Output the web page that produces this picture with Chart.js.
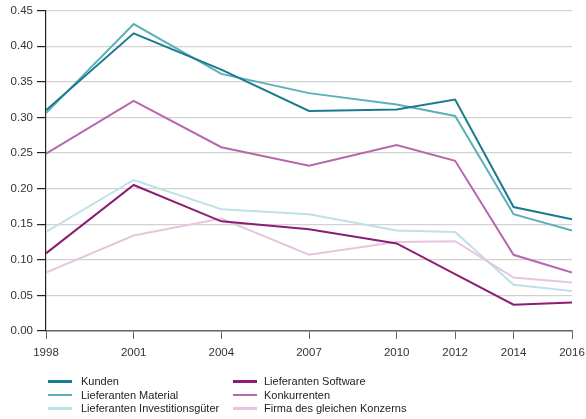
<!DOCTYPE html>
<html>
<head>
<meta charset="utf-8">
<script src="https://cdn.jsdelivr.net/npm/chart.js@4/dist/chart.umd.min.js"></script>
<style>
  body { margin: 0; background: #fff; }
  #wrap { position: relative; width: 586px; height: 419px; }
  #legend { position: absolute; left: 0; top: 0; width: 586px; height: 419px; pointer-events: none;
            font-family: "Liberation Sans", Arial, sans-serif; font-size: 11px; color: #222; }
  .item { position: absolute; height: 14px; line-height: 14px; white-space: nowrap; }
  .swatch { position: absolute; top: 6px; width: 24px; height: 2.5px; }
  .label { position: absolute; top: 0; }
</style>
</head>
<body>
<div id="wrap">
  <canvas id="lineChart" width="586" height="419"></canvas>
  <div id="legend"></div>
</div>
<script>
// years on a linear axis (2010 -> 2012 -> 2014 -> 2016 are closer together)
const years = [1998, 2001, 2004, 2007, 2010, 2012, 2014, 2016];

const kunden       = [0.310, 0.418, 0.367, 0.309, 0.311, 0.325, 0.174, 0.157];
const material     = [0.306, 0.431, 0.361, 0.334, 0.318, 0.302, 0.164, 0.141];
const investition  = [0.139, 0.212, 0.171, 0.164, 0.141, 0.139, 0.065, 0.056];
const software     = [0.109, 0.205, 0.154, 0.143, 0.123, 0.080, 0.037, 0.040];
const konkurrenten = [0.249, 0.323, 0.258, 0.232, 0.261, 0.239, 0.107, 0.082];
const firma        = [0.082, 0.134, 0.158, 0.107, 0.125, 0.126, 0.075, 0.068];

const seriesNames = ['Kunden', 'Lieferanten Material', 'Lieferanten Investitionsgüter',
                     'Lieferanten Software', 'Konkurrenten', 'Firma des gleichen Konzerns'];
const seriesValues = [kunden, material, investition, software, konkurrenten, firma];
const seriesColors = ['#1b7b8e', '#5cb0ba', '#bfe1e6', '#8c1d74', '#b767ac', '#e8c5de'];

const yTicks = [0, 0.05, 0.10, 0.15, 0.20, 0.25, 0.30, 0.35, 0.40, 0.45];

const ctx = document.getElementById('lineChart').getContext('2d');

const datasets = seriesNames.map((name, i) => ({
    label: name,
    data: years.map((yr, j) => ({ x: yr, y: seriesValues[i][j] })),
    borderColor: seriesColors[i],
    backgroundColor: seriesColors[i],
    borderWidth: 2,
    pointRadius: 0,
    tension: 0,
    fill: false
}));
// draw lighter lines underneath the darker ones
datasets[2].order = 5;
datasets[5].order = 4;

const fontFamily = '"Liberation Sans", Arial, sans-serif';

const chart = new Chart(ctx, {
    type: 'line',
    data: { datasets: datasets },
    options: {
        responsive: false,
        animation: false,
        devicePixelRatio: 1,
        layout: { padding: { left: 0, right: 14, top: 10.5, bottom: 0 } },
        plugins: {
            legend: { display: false },
            tooltip: { enabled: false }
        },
        scales: {
            x: {
                type: 'linear',
                min: 1998,
                max: 2016,
                afterBuildTicks: scale => { scale.ticks = years.map(v => ({ value: v })); },
                afterFit: scale => {
                    scale.height = 88;
                    // labels may hang over the edges, don't shrink the plot for them
                    scale.paddingLeft = 0;
                    scale.paddingRight = 0;
                },
                ticks: {
                    color: '#333',
                    font: { family: fontFamily, size: 11.5 },
                    padding: 7,
                    maxRotation: 0,
                    autoSkip: false,
                    callback: v => String(v)
                },
                grid: {
                    drawOnChartArea: false,
                    drawTicks: true,
                    tickLength: 8,
                    tickColor: '#666',
                    lineWidth: 1
                },
                border: { color: '#666', width: 1.5 }
            },
            y: {
                min: 0,
                max: 0.45,
                afterBuildTicks: scale => { scale.ticks = yTicks.map(v => ({ value: v })); },
                afterFit: scale => {
                    scale.width = 46;
                    scale.paddingTop = 0;
                    scale.paddingBottom = 0;
                },
                ticks: {
                    color: '#333',
                    font: { family: fontFamily, size: 11.5 },
                    padding: 4,
                    callback: v => v.toFixed(2)
                },
                grid: {
                    color: '#d2d2d2',
                    lineWidth: 1.2,
                    tickLength: 9,
                    tickColor: '#222'
                },
                border: { color: '#222', width: 1.2 }
            }
        }
    }
});

// legend in two columns, built from the chart's datasets
const legend = document.getElementById('legend');
const colX = [[48, 81], [233, 264]];
const rowY = [374, 387.5, 401];
chart.data.datasets.forEach((ds, i) => {
    const col = i < 3 ? 0 : 1;
    const row = i % 3;
    const item = document.createElement('div');
    item.className = 'item';
    item.style.left = '0px';
    item.style.top = rowY[row] + 'px';
    const sw = document.createElement('div');
    sw.className = 'swatch';
    sw.style.left = colX[col][0] + 'px';
    sw.style.background = ds.borderColor;
    const lb = document.createElement('div');
    lb.className = 'label';
    lb.style.left = colX[col][1] + 'px';
    lb.textContent = ds.label;
    item.appendChild(sw);
    item.appendChild(lb);
    legend.appendChild(item);
});
</script>
</body>
</html>
